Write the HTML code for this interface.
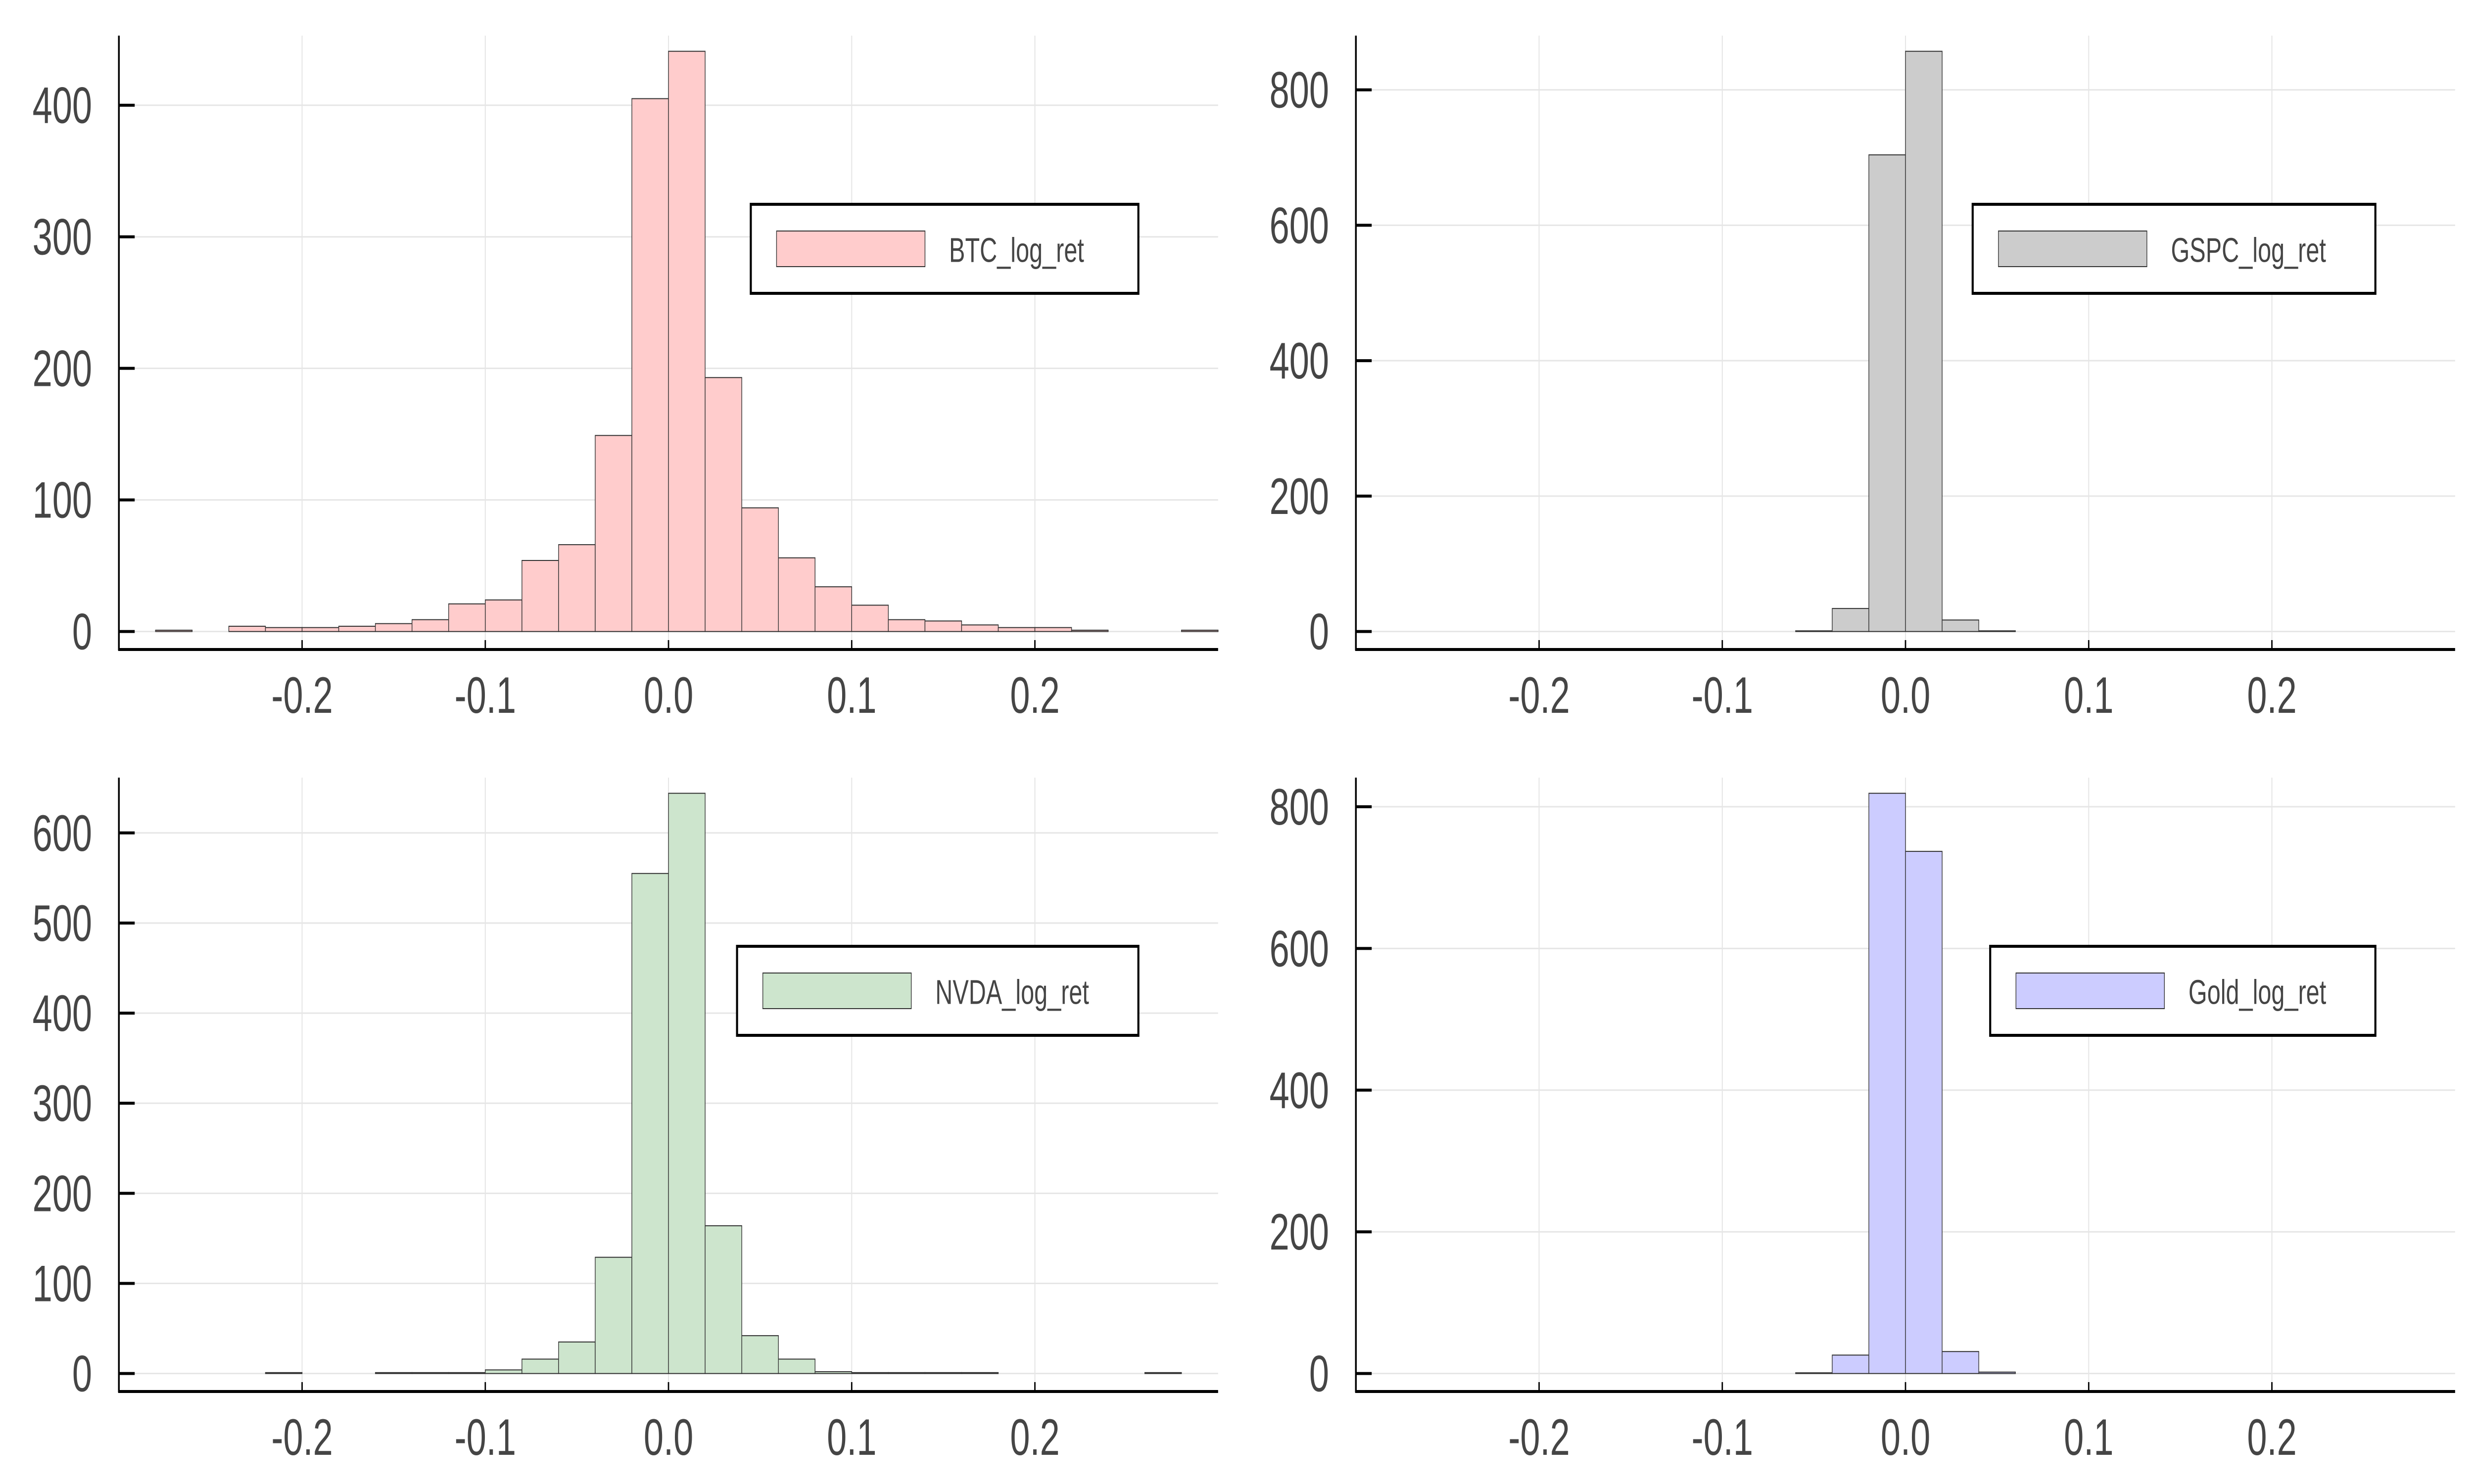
<!DOCTYPE html>
<html><head><meta charset="utf-8">
<style>
html,body{margin:0;padding:0;background:#fff;overflow:hidden;width:100%;height:100%;}
svg{display:block;width:100vw;height:100vh;}
text{font-family:"Liberation Sans",Arial,sans-serif;fill:#454545;}
</style></head>
<body>
<svg id="chart" viewBox="0 0 7200 3000" preserveAspectRatio="none" xmlns="http://www.w3.org/2000/svg"></svg>
<script>
const binStart = -0.28;
const binWidth = 0.02;
const btcCounts = [1,0,4,3,3,4,6,9,21,24,54,66,149,405,441,193,94,56,34,20,9,8,5,3,3,1,0,0,1];
const gspcCounts = [0,0,0,0,0,0,0,0,0,0,0,1,34,704,857,17,1,0,0,0,0,0,0,0,0,0,0,0,0];
const nvdaCounts = [0,0,0,1,0,0,1,1,1,4,16,35,129,555,644,164,42,16,2,1,1,1,1,0,0,0,0,1,0];
const goldCounts = [0,0,0,0,0,0,0,0,0,0,0,1,26,819,737,31,2,0,0,0,0,0,0,0,0,0,0,0,0];
const xTicks = [-0.2,-0.1,0.0,0.1,0.2];
const xTickLabels = ["-0.2","-0.1","0.0","0.1","0.2"];
const btcYTicks = [0,100,200,300,400];
const gspcYTicks = [0,200,400,600,800];
const nvdaYTicks = [0,100,200,300,400,500,600];
const goldYTicks = [0,200,400,600,800];
const seriesNames = ["BTC_log_ret","GSPC_log_ret","NVDA_log_ret","Gold_log_ret"];

const NS = "http://www.w3.org/2000/svg";
const svg = document.getElementById("chart");
function mk(tag, attrs, parent){
  const e = document.createElementNS(NS, tag);
  for (const k in attrs) e.setAttribute(k, attrs[k]);
  (parent||svg).appendChild(e);
  return e;
}
const panels = [
  {ox:0, oy:0, counts:btcCounts, ticks:btcYTicks, fill:"#ffcccc", name:seriesNames[0], legL:2185, key:"btc"},
  {ox:3600, oy:0, counts:gspcCounts, ticks:gspcYTicks, fill:"#cccccc", name:seriesNames[1], legL:2141, key:"gspc"},
  {ox:0, oy:1500, counts:nvdaCounts, ticks:nvdaYTicks, fill:"#cde5cd", name:seriesNames[2], legL:2145, key:"nvda"},
  {ox:3600, oy:1500, counts:goldCounts, ticks:goldYTicks, fill:"#ccccff", name:seriesNames[3], legL:2192, key:"gold"}
];
panels.forEach(p => {
  const g = mk("g", {transform:`translate(${p.ox},${p.oy})`});
  
  
  const L = 346, R = 3545, T = 72, B = 1313;
  const xmin = -0.3, xmax = 0.3;
  const m = Math.max(...p.counts);
  const ymin = -0.031*m, ymax = 1.027*m;
  const X = v => L + (v - xmin)/(xmax - xmin)*(R - L);
  const Y = v => B - (v - ymin)/(ymax - ymin)*(B - T);
  xTicks.forEach(t => {
    const l = mk("line", {x1:X(t), x2:X(t), y1:T, y2:B, stroke:"#e6e6e6", "stroke-width":3}, g);
    
    
  });
  p.ticks.forEach(t => {
    const l = mk("line", {x1:L, x2:R, y1:Y(t), y2:Y(t), stroke:"#e6e6e6", "stroke-width":3}, g);
    
    
  });
  p.counts.forEach((c, i) => {
    const x0 = binStart + i*binWidth;
    const x1 = x0 + binWidth;
    if (c <= 0) {
      return;
    }
    const r = mk("rect", {x:X(x0), y:Y(c), width:X(x1)-X(x0), height:Y(0)-Y(c), fill:p.fill, stroke:"#333", "stroke-width":2}, g);
    
    
  });
  const ya = mk("line", {x1:L, x2:L, y1:T, y2:B+2, stroke:"#000", "stroke-width":5}, g);
  
  
  const xa = mk("line", {x1:L-2, x2:R, y1:B, y2:B, stroke:"#000", "stroke-width":6}, g);
  
  
  xTicks.forEach((t, i) => {
    mk("line", {x1:X(t), x2:X(t), y1:B, y2:B-19, stroke:"#000", "stroke-width":4}, g);
    const tx = mk("text", {x:X(t), y:1405, "font-size":104, "text-anchor":"middle", "dominant-baseline":"central"}, g);
    tx.textContent = xTickLabels[i];
    
    
  });
  p.ticks.forEach(t => {
    mk("line", {x1:L, x2:L+46, y1:Y(t), y2:Y(t), stroke:"#000", "stroke-width":6}, g);
    const tx = mk("text", {x:268, y:Y(t), "font-size":104, "text-anchor":"end", "dominant-baseline":"central"}, g);
    tx.textContent = String(t);
    
    
  });
  const lg = mk("g", {}, g);
  
  
  mk("rect", {x:p.legL, y:413, width:3313-p.legL, height:180, fill:"#fff", stroke:"#000", "stroke-width":6}, lg);
  const sw = mk("rect", {x:p.legL+75, y:467, width:432, height:72, fill:p.fill, stroke:"#333", "stroke-width":2}, lg);
  
  
  const lt = mk("text", {x:p.legL+75+432+70, y:505, "font-size":70, "dominant-baseline":"central"}, lg);
  lt.textContent = p.name;
  
  
});
</script>
</body></html>
